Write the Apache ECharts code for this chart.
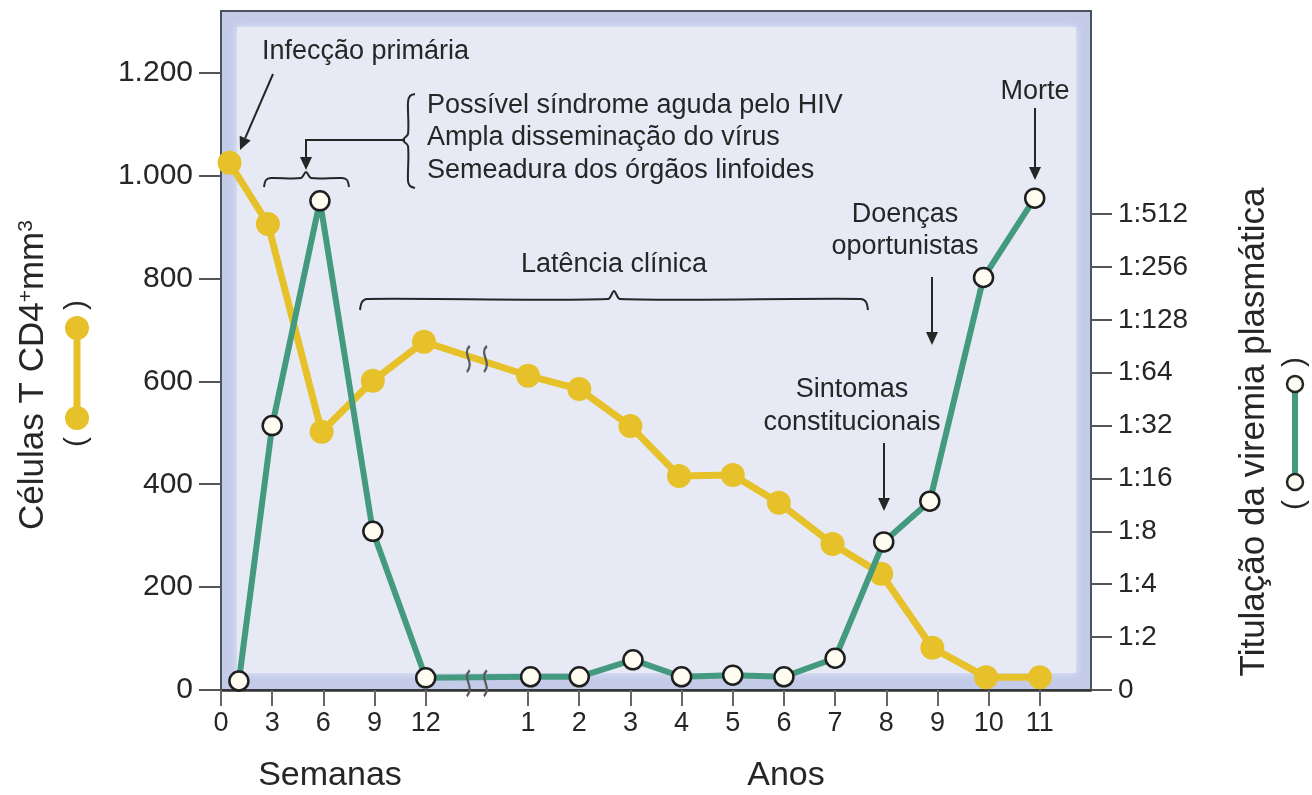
<!DOCTYPE html>
<html lang="pt">
<head>
<meta charset="UTF-8">
<title>Curso da infecção pelo HIV</title>
<script src="https://cdn.jsdelivr.net/npm/echarts@6/dist/echarts.min.js"></script>
<style>
  html, body { margin: 0; background: #fff; }
  #main { width: 1312px; height: 795px; }
</style>
</head>
<body>
<div id="main"></div>
<script>
// tick labels
var weekTicks = [0, 3, 6, 9, 12];
var yearTicks = [1, 2, 3, 4, 5, 6, 7, 8, 9, 10, 11];
var cd4Ticks = [0, 200, 400, 600, 800, 1000, 1200];
var titerLabels = ['0', '1:2', '1:4', '1:8', '1:16', '1:32', '1:64', '1:128', '1:256', '1:512'];

// células T CD4 (amarelo)
var cd4Weeks = [0.5, 2.75, 5.9, 8.9, 11.9];
var cd4WeekValues = [1025, 906, 502, 601, 677];
var cd4Years = [1, 2, 3, 3.95, 5, 5.9, 6.95, 7.9, 8.9, 9.95, 11];
var cd4YearValues = [611, 585, 513, 416, 418, 364, 284, 226, 82, 25, 25];

// viremia (verde), em passos da escala 1:2^n
var virusWeeks = [1.05, 3, 5.8, 8.9, 12];
var virusWeekValues = [0.17, 5.0, 9.25, 3.0, 0.23];
var virusYears = [1.05, 2, 3.05, 4, 5, 6, 7, 7.95, 8.85, 9.9, 10.9];
var virusYearValues = [0.25, 0.25, 0.57, 0.25, 0.28, 0.25, 0.6, 2.8, 3.57, 7.8, 9.3];

// semanas e anos partilham um eixo: 3 semanas = 1 ano = 1 unidade, quebra em 5
function weekPos(w) { return w / 3; }
function yearPos(y) { return 5 + y; }
var BREAK = 5;

function buildPoints(weeks, wv, years, yv) {
    var pts = [];
    weeks.forEach(function (w, i) { pts.push([weekPos(w), wv[i]]); });
    years.forEach(function (y, i) { pts.push([yearPos(y), yv[i]]); });
    return pts;
}
function valueAtBreak(pts) {
    for (var i = 1; i < pts.length; i++) {
        if (pts[i][0] >= BREAK) {
            var a = pts[i - 1], b = pts[i];
            return a[1] + (b[1] - a[1]) * (BREAK - a[0]) / (b[0] - a[0]);
        }
    }
}

var cd4Data = buildPoints(cd4Weeks, cd4WeekValues, cd4Years, cd4YearValues);
var virusData = buildPoints(virusWeeks, virusWeekValues, virusYears, virusYearValues);

var xTickPos = weekTicks.map(weekPos).concat(yearTicks.map(yearPos));
function xLabel(v) {
    for (var i = 0; i < weekTicks.length; i++) if (Math.abs(weekPos(weekTicks[i]) - v) < 1e-6) return String(weekTicks[i]);
    for (var j = 0; j < yearTicks.length; j++) if (Math.abs(yearPos(yearTicks[j]) - v) < 1e-6) return String(yearTicks[j]);
    return '';
}
var titerPos = titerLabels.map(function (s, i) { return i; });

var YELLOW = '#e6c12a';
var GREEN = '#439a7f';
var INK = '#262626';
var FONT = '"Liberation Sans", Arial, sans-serif';
var breakSymbol = 'path://M7,0 C1,7 11,13 5,22 M19,0 C13,7 23,13 17,22';

// anotações
function txt(x, y, s, size, align) {
    return { type: 'text', x: x, y: y, z: 20, silent: true,
        style: { text: s, font: (size || 27) + 'px ' + FONT, fill: INK, align: align || 'center', verticalAlign: 'middle' } };
}
function arrow(x1, y1, x2, y2) {
    var dx = x2 - x1, dy = y2 - y1, len = Math.sqrt(dx * dx + dy * dy);
    var ux = dx / len, uy = dy / len, h = 13, w = 6;
    var bx = x2 - ux * h, by = y2 - uy * h;
    return [
        { type: 'line', z: 20, silent: true, shape: { x1: x1, y1: y1, x2: bx, y2: by }, style: { stroke: INK, lineWidth: 2 } },
        { type: 'polygon', z: 20, silent: true,
          shape: { points: [[x2, y2], [bx - uy * w, by + ux * w], [bx + uy * w, by - ux * w]] }, style: { fill: INK } }
    ];
}
function curve(points) {
    return { type: 'polyline', z: 20, silent: true, shape: { points: points, smooth: 0.3 },
        style: { stroke: INK, lineWidth: 2, fill: null } };
}

var graphics = [
    { type: 'rect', z: 1, silent: true, shape: { x: 237, y: 27, width: 839, height: 646 },
      style: { fill: '#e7eaf5', shadowBlur: 8, shadowColor: '#e7eaf5' } },

    txt(262, 52, 'Infecção primária', 27, 'left'),
    curve([[264, 187], [266, 180], [271, 178], [301, 178], [306, 172], [311, 178], [342, 178], [347, 180], [349, 187]]),
    { type: 'polyline', z: 20, silent: true, shape: { points: [[405, 140], [306, 140], [306, 158]] },
      style: { stroke: INK, lineWidth: 2, fill: null } },
    curve([[415, 94], [410, 96], [408, 102], [408, 134], [403, 140], [408, 146], [408, 181], [410, 186], [415, 188]]),
    txt(427, 106, 'Possível síndrome aguda pelo HIV', 27, 'left'),
    txt(427, 138, 'Ampla disseminação do vírus', 27, 'left'),
    txt(427, 171, 'Semeadura dos órgãos linfoides', 27, 'left'),

    txt(614, 265, 'Latência clínica', 27),
    curve([[360, 310], [362, 302], [367, 299], [608, 299], [614, 291], [620, 299], [861, 299], [866, 302], [868, 310]]),

    txt(1035, 92, 'Morte', 27),
    txt(905, 215, 'Doenças', 27),
    txt(905, 247, 'oportunistas', 27),
    txt(852, 390, 'Sintomas', 27),
    txt(852, 423, 'constitucionais', 27),

    txt(330, 776, 'Semanas', 34),
    txt(786, 776, 'Anos', 34),

    // título esquerdo + símbolo
    { type: 'text', x: 33, y: 375, rotation: Math.PI / 2, z: 20, silent: true,
      style: { text: 'Células T CD4{sup|+}mm{sup|3}', font: '35px ' + FONT, fill: INK, align: 'center', verticalAlign: 'middle',
               rich: { sup: { fontSize: 21, verticalAlign: 'top', fill: INK, lineHeight: 32 } } } },
    { type: 'line', z: 20, silent: true, shape: { x1: 77, y1: 328, x2: 77, y2: 418 }, style: { stroke: YELLOW, lineWidth: 7 } },
    { type: 'circle', z: 21, silent: true, shape: { cx: 77, cy: 328, r: 12 }, style: { fill: YELLOW } },
    { type: 'circle', z: 21, silent: true, shape: { cx: 77, cy: 418, r: 12 }, style: { fill: YELLOW } },
    { type: 'text', x: 77, y: 305, rotation: Math.PI / 2, z: 20, silent: true,
      style: { text: ')', font: '30px ' + FONT, fill: INK, align: 'center', verticalAlign: 'middle' } },
    { type: 'text', x: 77, y: 442, rotation: Math.PI / 2, z: 20, silent: true,
      style: { text: '(', font: '30px ' + FONT, fill: INK, align: 'center', verticalAlign: 'middle' } },

    // título direito + símbolo
    { type: 'text', x: 1254, y: 432, rotation: Math.PI / 2, z: 20, silent: true,
      style: { text: 'Titulação da viremia plasmática', font: '35px ' + FONT, fill: INK, align: 'center', verticalAlign: 'middle' } },
    { type: 'line', z: 20, silent: true, shape: { x1: 1295, y1: 384, x2: 1295, y2: 482 }, style: { stroke: GREEN, lineWidth: 6 } },
    { type: 'circle', z: 21, silent: true, shape: { cx: 1295, cy: 384, r: 8 }, style: { fill: '#fffdf2', stroke: INK, lineWidth: 2.5 } },
    { type: 'circle', z: 21, silent: true, shape: { cx: 1295, cy: 482, r: 8 }, style: { fill: '#fffdf2', stroke: INK, lineWidth: 2.5 } },
    { type: 'text', x: 1295, y: 362, rotation: Math.PI / 2, z: 20, silent: true,
      style: { text: ')', font: '30px ' + FONT, fill: INK, align: 'center', verticalAlign: 'middle' } },
    { type: 'text', x: 1295, y: 505, rotation: Math.PI / 2, z: 20, silent: true,
      style: { text: '(', font: '30px ' + FONT, fill: INK, align: 'center', verticalAlign: 'middle' } }
];
graphics = graphics.concat(
    arrow(273, 74, 240, 150),
    arrow(306, 150, 306, 170),
    arrow(1035, 108, 1035, 180),
    arrow(932, 277, 932, 345),
    arrow(884, 443, 884, 511)
);

var chart = echarts.init(document.getElementById('main'));
var option = {
    animation: false,
    backgroundColor: '#ffffff',
    textStyle: { fontFamily: FONT },
    grid: {
        left: 221, right: 221, top: 11, bottom: 105,
        show: true, backgroundColor: '#c3cbe9', borderColor: '#4b525c', borderWidth: 2
    },
    xAxis: {
        type: 'value', min: 0, max: 17,
        axisLine: { show: true, onZero: false, lineStyle: { color: '#333', width: 2.5 } },
        axisTick: { show: true, length: 16, customValues: xTickPos, lineStyle: { color: '#666', width: 2 } },
        axisLabel: { customValues: xTickPos, formatter: xLabel, fontSize: 27, color: INK, margin: 20 },
        splitLine: { show: false }
    },
    yAxis: [{
        type: 'value', min: 0, max: 1320, position: 'left',
        axisLine: { show: false },
        axisTick: { show: true, length: 22, customValues: cd4Ticks, lineStyle: { color: '#555', width: 2 } },
        axisLabel: {
            customValues: cd4Ticks, fontSize: 30, color: INK, margin: 28,
            formatter: function (v) { return String(v).replace(/\B(?=(\d{3})+(?!\d))/g, '.'); }
        },
        splitLine: { show: false }
    }, {
        type: 'value', min: 0, max: 12.84, position: 'right',
        axisLine: { show: false },
        axisTick: { show: true, length: 21, customValues: titerPos, lineStyle: { color: '#555', width: 2 } },
        axisLabel: {
            customValues: titerPos, fontSize: 28, color: INK, margin: 27,
            formatter: function (v) { return titerLabels[Math.round(v)]; }
        },
        splitLine: { show: false }
    }],
    series: [{
        name: 'Células T CD4', type: 'line', yAxisIndex: 0, z: 3,
        data: cd4Data,
        symbol: 'circle', symbolSize: 24,
        lineStyle: { color: YELLOW, width: 7 },
        itemStyle: { color: YELLOW },
        markPoint: {
            silent: true, symbol: breakSymbol, symbolSize: [20, 26], label: { show: false },
            itemStyle: { color: 'transparent', borderColor: '#5a5a5a', borderWidth: 2.5 },
            data: [{ coord: [BREAK, valueAtBreak(cd4Data)] }]
        }
    }, {
        name: 'Viremia plasmática', type: 'line', yAxisIndex: 1, z: 4,
        data: virusData,
        symbol: 'circle', symbolSize: 19,
        lineStyle: { color: GREEN, width: 6 },
        itemStyle: { color: '#fffdf2', borderColor: '#1e1e1e', borderWidth: 2.5 },
        markPoint: {
            silent: true, symbol: breakSymbol, symbolSize: [20, 26], symbolOffset: [0, 6], label: { show: false },
            itemStyle: { color: 'transparent', borderColor: '#5a5a5a', borderWidth: 2.5 },
            data: [{ coord: [BREAK, valueAtBreak(virusData)] }]
        }
    }],
    graphic: graphics
};
chart.setOption(option);
</script>
</body>
</html>
